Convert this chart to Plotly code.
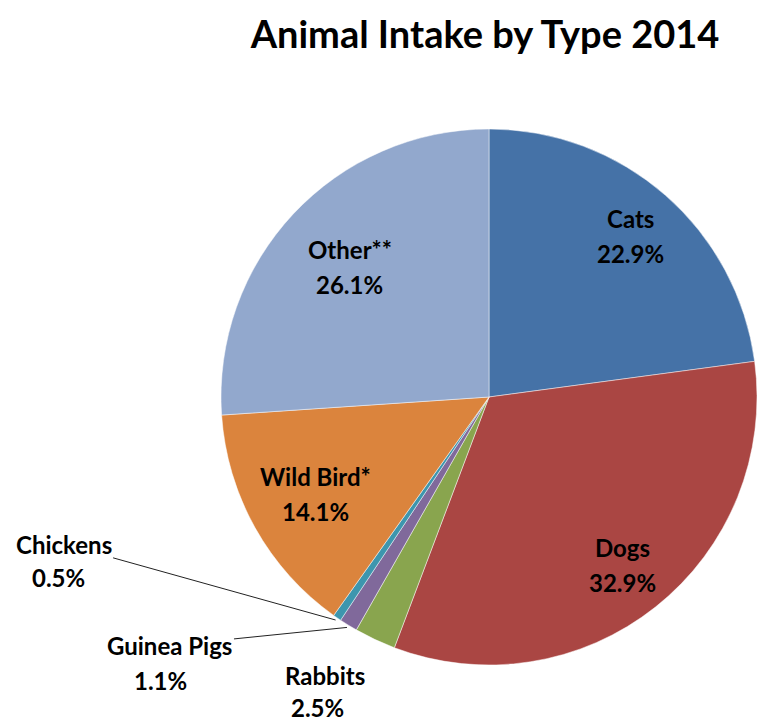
import math
import plotly.graph_objects as go

categories = ["Cats", "Dogs", "Rabbits", "Guinea Pigs", "Chickens", "Wild Bird*", "Other**"]
values = [22.9, 32.9, 2.5, 1.1, 0.5, 14.1, 26.1]
colors = ["#4572A7", "#AA4643", "#89A54E", "#80699B", "#3D96AE", "#DB843D", "#92A8CD"]

W, H = 757, 724
CX, CY, R = 489, 397, 268  # pie centre/radius in pixels (layout)
LINE_GAP = 35               # pixel distance between label lines

# label placement style:
#   ("in", radius fraction)
#   ("out", name offset (dx,dy), pct offset (dx,dy), leader line?)  offsets in px from slice edge
label_style = {
    "Cats": ("in", 0.80),
    "Dogs": ("in", 0.80),
    "Wild Bird*": ("in", 0.74),
    "Other**": ("in", 0.71),
    "Chickens": ("out", (-272, -76), (-277, -43), True),
    "Guinea Pigs": ("out", (-177, 18), (-186, 53), True),
    "Rabbits": ("out", (-49, 34), (-56, 66), False),
}

fig = go.Figure(go.Pie(
    labels=categories, values=values, sort=False, direction="clockwise", rotation=0,
    marker=dict(colors=colors, line=dict(color="rgba(255,255,255,0.6)", width=0.8)),
    textinfo="none", hoverinfo="label+percent", showlegend=False,
    domain=dict(x=[(CX - R) / W, (CX + R) / W], y=[1 - (CY + R) / H, 1 - (CY - R) / H]),
))

def to_paper(px, py):
    return px / W, 1 - py / H

font = dict(family="Lato, 'Open Sans', sans-serif", size=24, color="#000000")
total = sum(values)
cum = 0.0
annotations = []

def txt(x, y, s, xs=0, ys=0):
    return dict(x=x, y=y, xref="paper", yref="paper", text=f"<b>{s}</b>", showarrow=False,
                xanchor="center", yanchor="middle", xshift=xs, yshift=ys, font=font)

for cat, v in zip(categories, values):
    mid = (cum + v / 2) / total * 2 * math.pi
    cum += v
    pct = f"{v:.1f}%"
    st = label_style[cat]
    if st[0] == "in":
        r = R * st[1]
        x, y = to_paper(CX + r * math.sin(mid), CY - r * math.cos(mid))
        annotations.append(txt(x, y, cat, 0, LINE_GAP / 2))
        annotations.append(txt(x, y, pct, 0, -LINE_GAP / 2))
    else:
        r = R * 1.01
        x, y = to_paper(CX + r * math.sin(mid), CY - r * math.cos(mid))
        (ndx, ndy), (pdx, pdy), line = st[1], st[2], st[3]
        if line:
            annotations.append(dict(x=x, y=y, xref="paper", yref="paper", text=f"<b>{cat}</b>",
                                    showarrow=True, arrowhead=0, arrowwidth=1, arrowcolor="#222222",
                                    ax=ndx, ay=ndy, xanchor="center", yanchor="middle",
                                    standoff=0, font=font))
        else:
            annotations.append(txt(x, y, cat, ndx, -ndy))
        annotations.append(txt(x, y, pct, pdx, -pdy))

fig.update_layout(
    width=W, height=H,
    margin=dict(l=0, r=0, t=0, b=0),
    paper_bgcolor="white", plot_bgcolor="white",
    title=dict(text="<b>Animal Intake by Type 2014</b>", x=485 / W, xanchor="center",
               y=1 - 35 / H, yanchor="middle", yref="container",
               font=dict(family="Lato, 'Open Sans', sans-serif", size=38, color="#000000")),
    annotations=annotations,
)

fig.write_html("out.html")
